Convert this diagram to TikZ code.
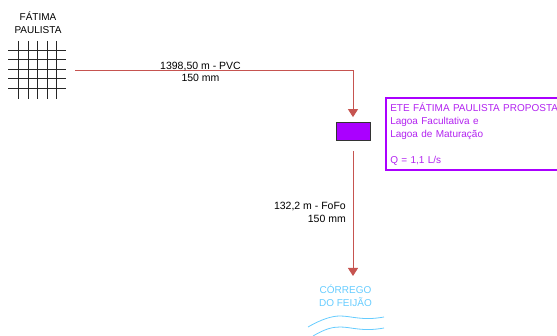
\documentclass[tikz,border=0pt]{standalone}
\usepackage{fontspec}
\setmainfont{Liberation Sans}
\usetikzlibrary{arrows.meta,calc}
\definecolor{pipered}{RGB}{198,84,80}
\definecolor{etepurple}{RGB}{170,0,255}
\definecolor{etetext}{RGB}{178,34,240}
\definecolor{creekblue}{RGB}{102,204,255}

\begin{document}
\begin{tikzpicture}[
  x=1pt,y=-1pt,
  >={Triangle[length=8pt,width=10pt]},
  every node/.style={font=\fontsize{10}{13}\selectfont,inner sep=0pt},
  pipe/.style={pipered,line width=0.9pt,->},
  gridline/.style={line width=1pt,black!85},
  wave/.style={creekblue,line width=0.8pt},
  label/.style={align=center},
  pipelabel/.style={font=\fontsize{10.5}{12.5}\selectfont},
  etebox/.style={draw=etepurple,line width=1.5pt,text=etetext,align=left,anchor=north west,
    minimum width=174pt,minimum height=72pt,text width=168pt,inner xsep=4.5pt,inner ysep=1.5pt}
]
\useasboundingbox (0,0) rectangle (557,336);

% ------------------------------------------------------------
% Fatima Paulista, street grid
% ------------------------------------------------------------
\node[label] (city) at (38,23) {FÁTIMA\\PAULISTA};
\draw[gridline] (8,51)--(66,51);
\draw[gridline] (8,60)--(66,60);
\draw[gridline] (8,70)--(66,70);
\draw[gridline] (8,79)--(66,79);
\draw[gridline] (8,89)--(66,89);
\draw[gridline] (18,41)--(18,99);
\draw[gridline] (28,41)--(28,99);
\draw[gridline] (37,41)--(37,99);
\draw[gridline] (47,41)--(47,99);
\draw[gridline] (56,41)--(56,99);

% ------------------------------------------------------------
% Treatment plant and its description
% ------------------------------------------------------------
\node[draw=black!80,fill=etepurple,line width=0.7pt,minimum width=34pt,minimum height=18pt] (ete) at (353,131.5) {};
\node[etebox] (etetext) at (385,97.5) {ETE FÁTIMA PAULISTA PROPOSTA\\Lagoa Facultativa e\\Lagoa de Maturação\\[13pt]Q = 1,1 L/s};

% ------------------------------------------------------------
% Creek
% ------------------------------------------------------------
\node[label,text=creekblue] (creek) at (345.5,296) {CÓRREGO\\DO FEIJÃO};
\draw[wave] (308,327) .. controls (322,319) and (332,316) .. (340,316)
  .. controls (352,316) and (362,321) .. (384,317);
\draw[wave] (313,336) .. controls (325,329) and (332,327) .. (340,327)
  .. controls (352,327) and (362,332) .. (384,328);

% ------------------------------------------------------------
% Pipes
% ------------------------------------------------------------
\coordinate (cityout) at (75,70);
\coordinate (creekin) at (353,276);
\draw[pipe,shorten >=5pt] (cityout) -| (ete.north);
\draw[pipe,shorten <=10pt] (ete.south) -- (creekin);

\node[label,pipelabel] (pvc) at (200.5,72) {1398,50 m - PVC\\150 mm};
\node[pipelabel,align=right,anchor=east] (fofo) at (346,212.5) {132,2 m - FoFo\\150 mm};

\end{tikzpicture}
\end{document}
